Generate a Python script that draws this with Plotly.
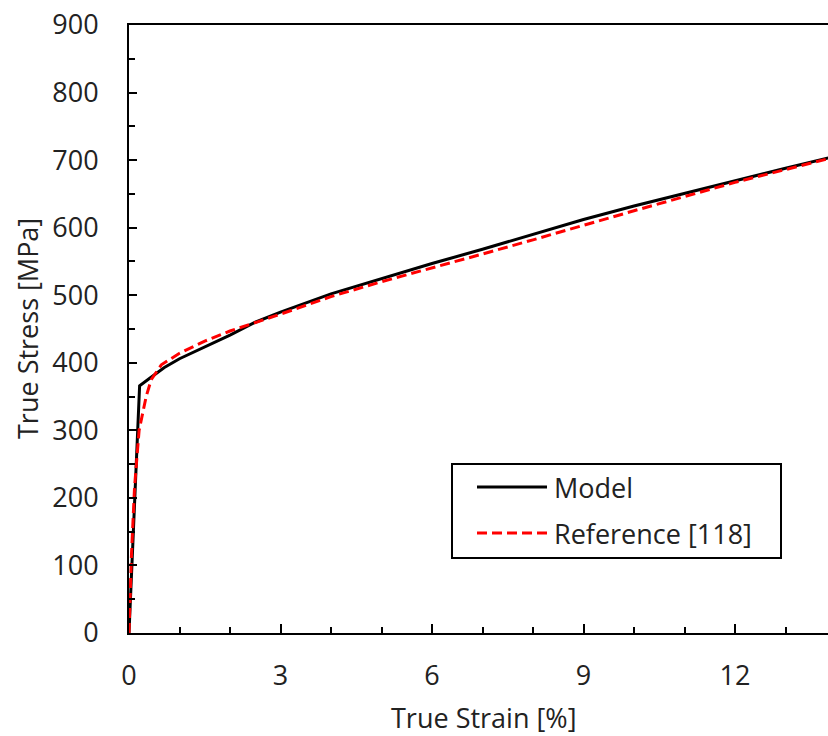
import plotly.graph_objects as go

# ---- data ----
model_strain = [0.0, 0.21, 0.41, 0.7, 1.0, 1.4, 2.0, 2.5, 3.0, 4.0, 5.0, 6.0, 7.0, 8.0, 9.0, 10.0, 11.0, 12.0, 13.0, 14.0]
model_stress = [0, 366, 377, 393, 406, 420, 441, 460, 475, 502, 525, 547, 568, 590, 612, 632, 651, 670, 688, 706]

ref_strain = [0.0, 0.05, 0.11, 0.2, 0.34, 0.44, 0.64, 1.0, 1.5, 2.0, 3.0, 4.0, 5.0, 6.0, 7.0, 8.0, 9.0, 10.0, 11.0, 12.0, 13.0, 14.0]
ref_stress = [0, 118, 216, 300, 350, 375, 397, 414, 432, 447, 472, 498, 520, 540, 561, 582, 604, 625, 646, 667, 686, 705]

x_ticks = [0, 3, 6, 9, 12]
y_ticks = [0, 100, 200, 300, 400, 500, 600, 700, 800, 900]
series_names = ["Model", "Reference [118]"]

# ---- layout geometry ----
W, H = 828, 736
L, T, B = 129, 25, 103
plot_w = W - L
plot_h = H - T - B
FONT = "Open Sans, Segoe UI, sans-serif"
FS = 27
TXT = "#222"


def px_x(px):
    return (px - L) / plot_w


def px_y(py):
    return (H - B - py) / plot_h


fig = go.Figure()
fig.add_trace(go.Scatter(x=model_strain, y=model_stress, mode="lines", name=series_names[0],
                         line=dict(color="black", width=3), showlegend=False))
fig.add_trace(go.Scatter(x=ref_strain, y=ref_stress, mode="lines", name=series_names[1],
                         line=dict(color="#ff0000", width=3, dash="10px,5px"), showlegend=False))

fig.update_layout(
    width=W, height=H,
    margin=dict(l=L, r=0, t=T, b=B),
    plot_bgcolor="white", paper_bgcolor="white",
    font=dict(family=FONT, size=FS, color=TXT),
    xaxis=dict(range=[0, (W - L) / 50.5], tickvals=x_ticks, ticktext=[str(v) for v in x_ticks],
               ticks="inside", ticklen=9, tickwidth=2, tickcolor="black",
               minor=dict(dtick=1, tick0=0, ticks="inside", ticklen=6, tickwidth=2, tickcolor="black", showgrid=False),
               showline=True, linewidth=2, linecolor="black", mirror=True,
               showgrid=False, zeroline=False, ticklabelstandoff=18,
               tickfont=dict(family=FONT, size=FS, color=TXT)),
    yaxis=dict(range=[0, 900], tickvals=y_ticks, ticktext=[str(v) for v in y_ticks],
               ticks="inside", ticklen=8, tickwidth=2, tickcolor="black",
               minor=dict(dtick=50, tick0=0, ticks="inside", ticklen=6, tickwidth=2, tickcolor="black", showgrid=False),
               showline=True, linewidth=2, linecolor="black", mirror=False,
               showgrid=False, zeroline=False, ticklabelstandoff=23,
               tickfont=dict(family=FONT, size=FS, color=TXT)),
)

# axis titles
fig.add_annotation(text="True Strain [%]", xref="paper", yref="paper",
                   x=px_x(483), y=px_y(717), xanchor="center", yanchor="middle",
                   showarrow=False, font=dict(family=FONT, size=FS, color=TXT))
fig.add_annotation(text="True Stress [MPa]", xref="paper", yref="paper",
                   x=px_x(27), y=px_y(329), xanchor="center", yanchor="middle", textangle=-90,
                   showarrow=False, font=dict(family=FONT, size=FS, color=TXT))

# legend box drawn like the original
fig.add_shape(type="rect", xref="paper", yref="paper",
              x0=px_x(452), x1=px_x(781), y0=px_y(558), y1=px_y(464),
              line=dict(color="black", width=2), fillcolor="white", layer="above")
legend_rows = [(487, dict(color="black", width=3)), (533, dict(color="#ff0000", width=3, dash="10px,5px"))]
for name, (py, ln) in zip(series_names, legend_rows):
    fig.add_shape(type="line", xref="paper", yref="paper",
                  x0=px_x(477), x1=px_x(547), y0=px_y(py), y1=px_y(py), line=ln, layer="above")
    fig.add_annotation(text=name, xref="paper", yref="paper", x=px_x(552), y=px_y(py),
                       xanchor="left", yanchor="middle", showarrow=False,
                       font=dict(family=FONT, size=FS, color=TXT))

fig.write_html("out.html")
